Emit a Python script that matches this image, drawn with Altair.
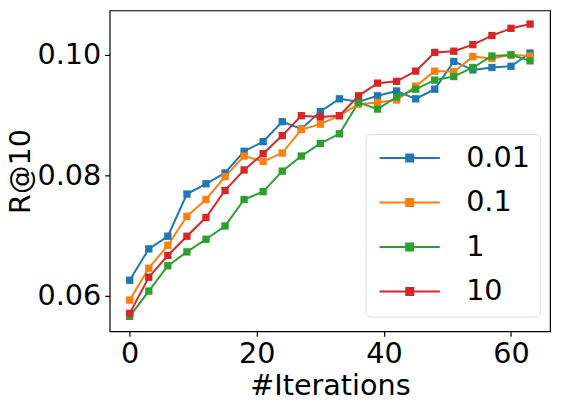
import altair as alt
import pandas as pd

iterations = [0, 3, 6, 9, 12, 15, 18, 21, 24, 27, 30, 33, 36, 39, 42, 45, 48, 51, 54, 57, 60, 63]
series_names = ["0.01", "0.1", "1", "10"]
r_001 = [0.0626, 0.0678, 0.0699, 0.0769, 0.0786, 0.0804, 0.0840, 0.0856, 0.0889, 0.0877, 0.0906,
         0.0927, 0.0922, 0.0932, 0.0940, 0.0927, 0.0943, 0.0989, 0.0975, 0.0979, 0.0981, 0.1003]
r_01 = [0.0593, 0.0646, 0.0684, 0.0732, 0.0760, 0.0798, 0.0832, 0.0823, 0.0837, 0.0876, 0.0885,
        0.0899, 0.0918, 0.0921, 0.0925, 0.0948, 0.0973, 0.0972, 0.0997, 0.0994, 0.1000, 0.0998]
r_1 = [0.0566, 0.0608, 0.0650, 0.0673, 0.0694, 0.0716, 0.0760, 0.0773, 0.0807, 0.0832, 0.0853,
       0.0869, 0.0921, 0.0910, 0.0930, 0.0943, 0.0958, 0.0964, 0.0979, 0.0998, 0.1000, 0.0990]
r_10 = [0.0571, 0.0631, 0.0667, 0.0699, 0.0730, 0.0775, 0.0809, 0.0836, 0.0866, 0.0899, 0.0897,
        0.0899, 0.0932, 0.0953, 0.0956, 0.0973, 0.1004, 0.1006, 0.1017, 0.1032, 0.1044, 0.1051]
colors = ["#1f77b4", "#ff7f0e", "#2ca02c", "#d62728"]
x_ticks = [0, 20, 40, 60]
y_ticks = [0.06, 0.08, 0.10]

rows = []
for name, vals in zip(series_names, [r_001, r_01, r_1, r_10]):
    for it, v in zip(iterations, vals):
        rows.append({"iter": it, "r": v, "lam": name})
df = pd.DataFrame(rows)

FONT = "DejaVu Sans"
# line from -1..5 (unit = sqrt(size)/2), square centred at 2
sym_path = "M-1,0H5M1.65,-0.35H2.35V0.35H1.65Z"

x_enc = alt.X("iter:Q", scale=alt.Scale(domain=[-3.15, 66.15], nice=False, zero=False),
              axis=alt.Axis(values=x_ticks, title="#Iterations", format="d"))
y_enc = alt.Y("r:Q", scale=alt.Scale(domain=[0.05411, 0.10736], nice=False, zero=False),
              axis=alt.Axis(values=y_ticks, title="R@10", format=".2f"))
color_enc = alt.Color("lam:N", scale=alt.Scale(domain=series_names, range=colors),
                      sort=series_names, title=None,
                      legend=alt.Legend(orient="none", legendX=259, legendY=125,
                                        symbolType=sym_path, symbolSize=414,
                                        symbolStrokeWidth=2, labelFontSize=29,
                                        labelFont=FONT, labelColor="black",
                                        rowPadding=15, padding=10, cornerRadius=5,
                                        strokeColor="#dcdcdc", fillColor="white",
                                        labelOffset=63))

base = alt.Chart(df).encode(x=x_enc, y=y_enc, color=color_enc)
lines = base.mark_line(strokeWidth=2)
points = base.mark_point(shape="square", filled=True, size=55, opacity=1)

chart = alt.layer(lines, points).properties(
    width=446, height=325,
    autosize=alt.AutoSizeParams(type="none"),
    padding={"left": 103, "top": 0, "right": 6, "bottom": 68},
).configure_view(stroke="black", strokeWidth=1.2).configure_axis(
    labelFont=FONT, titleFont=FONT, labelFontSize=29, titleFontSize=29,
    labelColor="black", titleColor="black", titleFontWeight="normal",
    tickColor="black", tickSize=5, tickWidth=1.2, domain=False, grid=False,
    labelPadding=4, labelFlush=False,
).configure_axisX(titlePadding=3).configure_axisY(titlePadding=2)

chart.save("out.html", embed_options={"renderer": "svg", "actions": False})
